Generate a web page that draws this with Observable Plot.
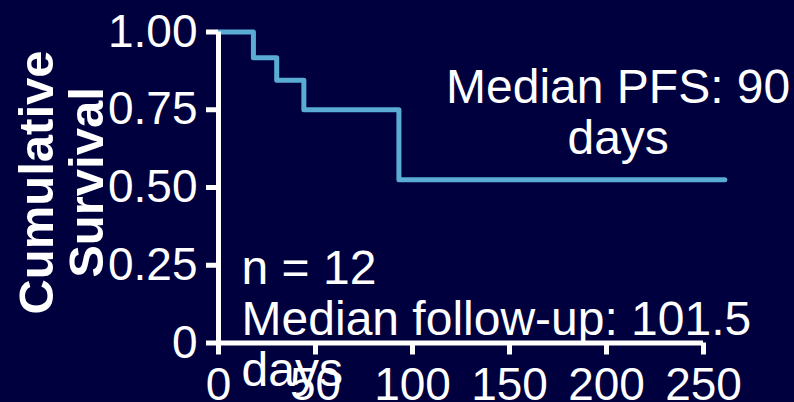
<!DOCTYPE html>
<html><head><meta charset="utf-8">
<script src="https://cdn.jsdelivr.net/npm/d3@7"></script>
<script src="https://cdn.jsdelivr.net/npm/@observablehq/plot@0.6"></script>
<style>html,body{margin:0;padding:0;background:#00003f;overflow:hidden;}</style>
</head><body><div id="chart"></div>
<script>
const days = [0, 18, 30, 44, 93, 261];
const survival = [1, 0.917, 0.845, 0.75, 0.525, 0.525];
const xTicks = [0, 50, 100, 150, 200, 250];
const yTicks = [0, 0.25, 0.5, 0.75, 1];
const yTickLabels = ["0", "0.25", "0.50", "0.75", "1.00"];
const yTitle = "Cumulative\nSurvival";
const pfsNote = "Median PFS: 90\ndays";
const cohortNote = "n = 12\nMedian follow-up: 101.5\ndays";

const data = days.map((d, i) => ({day: d, s: survival[i]}));
const font = "'Liberation Sans', Arial, Helvetica, sans-serif";

const chart = Plot.plot({
  width: 794, height: 402,
  marginLeft: 218, marginRight: 91, marginTop: 31.5, marginBottom: 59.5,
  style: {background: "#00003f", color: "white", fontFamily: font, overflow: "visible"},
  x: {domain: [0, 250]},
  y: {domain: [0, 1]},
  marks: [
    Plot.line(data, {x: "day", y: "s", curve: "step-after", stroke: "#5aacd4", strokeWidth: 5}),
    Plot.ruleX([0], {y1: 0, y2: 1, stroke: "white", strokeWidth: 5}),
    Plot.ruleY([0], {x1: 0, x2: 250, stroke: "white", strokeWidth: 5}),
    Plot.axisX({ticks: xTicks, tickSize: 12, tickPadding: 12, fontSize: 46, strokeWidth: 5, color: "white", label: null}),
    Plot.axisY({ticks: yTicks, tickFormat: (d) => yTickLabels[yTicks.indexOf(d)], tickSize: 12, tickPadding: 9, fontSize: 46, strokeWidth: 5, color: "white", label: null}),
    Plot.text([pfsNote], {text: (d) => d, x: 206, y: 0.609, lineAnchor: "bottom", textAnchor: "middle", fontSize: 48, lineHeight: 1.06, fill: "white"}),
    Plot.text([cohortNote], {text: (d) => d, x: 11.9, y: -0.137, lineAnchor: "bottom", textAnchor: "start", fontSize: 48, lineHeight: 1.06, fill: "white"}),
    Plot.text([yTitle], {text: (d) => d, frameAnchor: "left", rotate: -90, textAnchor: "middle", lineAnchor: "bottom", dx: -116, dy: -5, fontSize: 49, fontWeight: "bold", lineHeight: 1.02, fill: "white"})
  ]
});
document.getElementById("chart").appendChild(chart);
</script>
</body></html>
